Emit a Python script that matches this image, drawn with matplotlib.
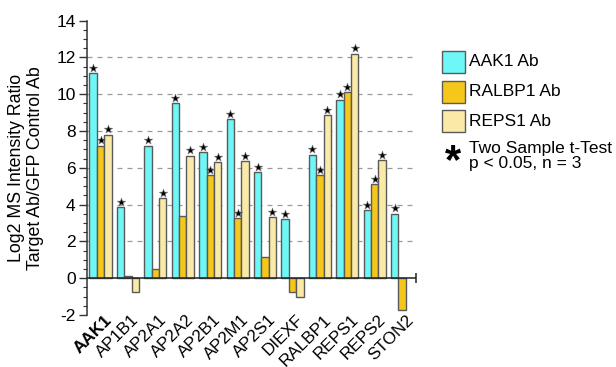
import numpy as np
import matplotlib
matplotlib.use("Agg")
import matplotlib.pyplot as plt
from matplotlib.patches import Rectangle

plt.rcParams['font.family'] = ['Liberation Sans', 'DejaVu Sans']
plt.rcParams['axes.unicode_minus'] = False

# Proteinas enriquecidas y log2 del cociente de intensidad por anticuerpo
proteins = ['AAK1', 'AP1B1', 'AP2A1', 'AP2A2', 'AP2B1', 'AP2M1',
            'AP2S1', 'DIEXF', 'RALBP1', 'REPS1', 'REPS2', 'STON2']
aak1_ab = [11.15, 3.85, 7.2, 9.5, 6.85, 8.65, 5.75, 3.2, 6.7, 9.7, 3.7, 3.5]
ralbp1_ab = [7.2, 0.1, 0.5, 3.4, 5.6, 3.25, 1.15, -0.75, 5.6, 10.1, 5.1, -1.75]
reps1_ab = [7.8, -0.75, 4.35, 6.65, 6.3, 6.35, 3.3, -1.0, 8.85, 12.2, 6.4, np.nan]

# Significancia (t-test, p < 0.05) por barra
aak1_sig = [1, 1, 1, 1, 1, 1, 1, 1, 1, 1, 1, 1]
ralbp1_sig = [1, 0, 0, 0, 1, 1, 0, 0, 1, 1, 1, 0]
reps1_sig = [1, 0, 1, 1, 1, 1, 1, 0, 1, 1, 1, 0]

series = [
    ('AAK1 Ab', aak1_ab, aak1_sig, '#6ef7f7'),
    ('RALBP1 Ab', ralbp1_ab, ralbp1_sig, '#f5c71a'),
    ('REPS1 Ab', reps1_ab, reps1_sig, '#faeaa8'),
]

fig = plt.figure(figsize=(6.16, 3.67), dpi=100)
ax = fig.add_axes([0.141, 0.1417, 0.534, 0.802])

x = np.arange(len(proteins))
bar_width = 0.27
edge = '#5a5a5a'

for k, (name, vals, sig, color) in enumerate(series):
    pos = x + (k - 1) * bar_width
    vals = np.array(vals, dtype=float)
    ax.bar(pos, vals, width=bar_width, color=color, edgecolor=edge,
           linewidth=1.0, zorder=3)
    # estrellas sobre las barras significativas
    sig = np.array(sig, dtype=bool) & ~np.isnan(vals)
    ax.scatter(pos[sig], vals[sig] + 0.3, marker='*', s=40, color='black',
               edgecolor='#777777', linewidth=0.4, zorder=4)

# Lineas guia y linea de cero
for yv in range(2, 13, 2):
    ax.axhline(yv, color='#9a9a9a', lw=0.9, ls=(0, (4, 4)), zorder=1)
ax.axhline(0, color='#222222', lw=1.1, zorder=5)
ax.plot([11.5], [0], marker='|', color='#222222', ms=7, mew=1.1,
        clip_on=False, zorder=5)

ax.set_xlim(-0.5, 11.5)
ax.set_ylim(-2, 14)
ax.set_yticks(range(-2, 15, 2))
ax.set_yticks(np.arange(-2, 14.01, 0.5), minor=True)
ax.tick_params(axis='y', which='major', length=6, width=1, labelsize=12.5,
               color='#333333', pad=2)
ax.tick_params(axis='y', which='minor', length=3, width=0.8, color='#333333')
ax.tick_params(axis='x', length=0, pad=-2)

ax.set_xticks(x + 0.12)
ax.set_xticklabels(proteins, rotation=45, ha='right', va='top',
                   rotation_mode='anchor', fontsize=12.3)
ax.get_xticklabels()[0].set_fontweight('bold')

for s in ['top', 'right', 'bottom']:
    ax.spines[s].set_visible(False)
ax.spines['left'].set_color('#333333')
ax.spines['left'].set_linewidth(1.1)

ax.set_ylabel('Log2 MS Intensity Ratio\nTarget Ab/GFP Control Ab',
              fontsize=12.8, linespacing=1.12, labelpad=9)

# Leyenda dibujada a mano
W, H = 616.0, 367.0
rows_y = [62, 91.5, 121]
for (name, vals, sig, color), yc in zip(series, rows_y):
    fig.patches.append(Rectangle((442 / W, 1 - (yc + 11) / H), 23 / W, 22 / H,
                                 transform=fig.transFigure, facecolor=color,
                                 edgecolor=edge, linewidth=1.0))
    fig.text(469 / W, 1 - yc / H, name, fontsize=12.5, va='center', ha='left')

fig.text(453 / W, 1 - 162 / H, '*', fontsize=30, fontweight='bold',
         va='center', ha='center')
fig.text(469 / W, 1 - 156 / H, 'Two Sample t-Test\np < 0.05, n = 3',
         fontsize=12.5, va='center', ha='left', linespacing=0.95)

fig.savefig('out.png', dpi=100)
